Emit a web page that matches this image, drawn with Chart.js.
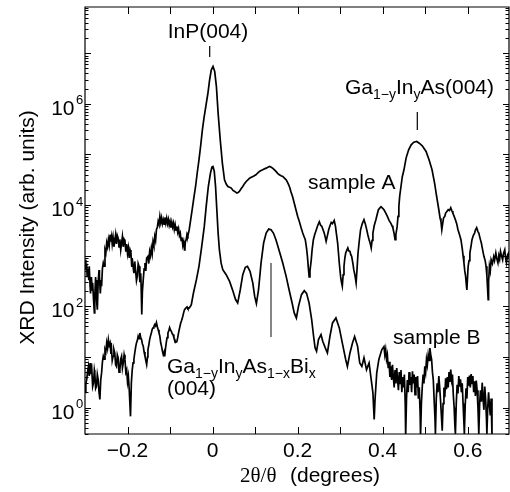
<!DOCTYPE html>
<html><head><meta charset="utf-8">
<script src="https://cdn.jsdelivr.net/npm/chart.js@4/dist/chart.umd.min.js"></script>
<style>html,body{margin:0;padding:0;background:#fff;}#wrap{width:510px;height:492px;}</style>
</head><body><div id="wrap"><canvas id="c" width="510" height="492"></canvas></div>
<script>
// ---- data (2theta/theta in degrees, intensity arb. units) ----
const sampleA_x = [
-0.300,-0.298,-0.296,-0.295,-0.293,-0.291,-0.290,-0.288,-0.287,-0.285,
-0.283,-0.282,-0.280,-0.278,-0.277,-0.275,-0.274,-0.273,-0.272,-0.271,
-0.269,-0.267,-0.266,-0.264,-0.262,-0.261,-0.259,-0.257,-0.255,-0.253,
-0.251,-0.249,-0.247,-0.245,-0.243,-0.241,-0.2395,-0.2375,-0.236,-0.234,
-0.232,-0.230,-0.228,-0.226,-0.224,-0.222,-0.220,-0.218,-0.216,-0.214,
-0.212,-0.210,-0.208,-0.206,-0.204,-0.202,-0.200,-0.198,-0.196,-0.194,
-0.192,-0.190,-0.189,-0.187,-0.185,-0.183,-0.181,-0.179,-0.177,-0.175,
-0.173,-0.171,-0.169,-0.168,-0.167,-0.166,-0.165,-0.163,-0.161,-0.159,
-0.157,-0.155,-0.152,-0.150,-0.148,-0.146,-0.144,-0.142,-0.140,-0.138,
-0.136,-0.134,-0.132,-0.130,-0.128,-0.126,-0.124,-0.122,-0.120,-0.118,
-0.116,-0.114,-0.112,-0.110,-0.108,-0.106,-0.104,-0.102,-0.100,-0.098,
-0.096,-0.094,-0.092,-0.090,-0.088,-0.086,-0.084,-0.082,-0.080,-0.078,
-0.076,-0.074,-0.072,-0.070,-0.068,-0.066,-0.065,-0.064,-0.062,-0.060,
-0.058,-0.055,-0.052,-0.048,-0.044,-0.040,-0.036,-0.032,-0.028,-0.024,
-0.020,-0.016,-0.011,-0.007,-0.003,0.001,0.005,0.009,0.013,0.018,
0.023,0.028,0.032,0.036,0.040,0.044,0.048,0.052,0.055,0.057,
0.060,0.063,0.067,0.071,0.075,0.079,0.083,0.087,0.091,0.095,
0.099,0.102,0.106,0.110,0.114,0.118,0.122,0.126,0.130,0.134,
0.138,0.141,0.145,0.149,0.153,0.157,0.161,0.165,0.169,0.173,
0.176,0.179,0.182,0.184,0.188,0.192,0.196,0.200,0.204,0.208,
0.212,0.215,0.218,0.221,0.223,0.225,0.227,0.229,0.232,0.234,
0.237,0.240,0.244,0.247,0.251,0.254,0.257,0.2595,0.2625,0.265,
0.267,0.270,0.273,0.276,0.279,0.282,0.286,0.289,0.291,0.294,
0.296,0.298,0.301,0.303,0.305,0.307,0.309,0.311,0.313,0.316,
0.318,0.320,0.323,0.325,0.327,0.330,0.332,0.335,0.3375,0.340,
0.342,0.345,0.348,0.352,0.356,0.359,0.3625,0.365,0.368,0.371,
0.373,0.375,0.377,0.380,0.384,0.387,0.390,0.393,0.396,0.400,
0.403,0.407,0.411,0.415,0.419,0.422,0.424,0.427,0.429,0.431,
0.434,0.436,0.438,0.440,0.443,0.446,0.450,0.455,0.461,0.467,
0.473,0.480,0.486,0.493,0.502,0.509,0.516,0.522,0.527,0.532,
0.535,0.537,0.539,0.541,0.543,0.546,0.548,0.551,0.554,0.557,
0.560,0.563,0.565,0.568,0.571,0.574,0.577,0.580,0.584,0.587,
0.589,0.591,0.593,0.595,0.597,0.598,0.600,0.601,0.603,0.605,
0.608,0.610,0.613,0.616,0.618,0.621,0.624,0.626,0.629,0.632,
0.635,0.638,0.641,0.643,0.645,0.648,0.649,0.651,0.653,0.655,
0.658,0.661,0.663,0.666,0.668,0.671,0.673,0.675,0.677,0.680,
0.682,0.684,0.687,0.689,0.691,0.694,0.696,0.698];
const sampleA_y = [
830,520,700,390,560,330,620,250,180,380,
210,290,140,74,160,380,210,330,120,86,
300,520,390,180,330,250,560,720,620,1300,
1130,1800,1500,2070,1600,2600,1900,2410,1700,2300,
1500,1920,2600,1700,2500,2230,1500,2100,1300,1780,
2400,1500,2100,1920,1200,1700,1100,1420,900,1300,
1130,600,900,620,450,770,500,320,390,700,
620,300,450,250,160,69,200,340,550,720,
500,900,970,700,1200,1000,1420,1100,1900,1600,
2410,2000,3300,3600,4760,4200,5970,4500,5600,4300,
5140,4200,5700,4400,5500,4300,5200,4000,4760,3600,
4600,3700,4410,3300,4100,3200,3790,2900,3400,2500,
2800,2000,2300,1600,1900,1300,1420,1900,2070,2700,
2500,3260,4800,8090,14000,23300,44000,78500,150000,307000,
540000,885000,1620000,2980000,4690000,5460000,4350000,2200000,655000,195000,
67400,31600,26000,23300,22500,21700,19500,18600,17800,17300,
17800,18600,21000,23300,26500,29300,31500,34100,35500,36800,
38500,39700,43000,46200,48000,49800,52000,53700,56000,57900,
56000,53700,50000,46200,42500,39700,38000,36800,34000,31600,
28500,25200,21500,18600,14800,11000,8090,6000,4760,3600,
2800,2400,2070,1400,970,600,380,500,830,1300,
2070,2600,3260,3900,4690,4000,3790,3300,2800,2300,
1920,2500,3260,3900,4550,4300,4980,3800,2800,1800,
1130,700,390,300,250,420,620,900,1130,1300,
1420,1250,1220,1050,970,700,530,400,290,600,
1130,2000,3260,4300,5140,4300,3260,2600,2070,1700,
1420,2000,2800,3900,5140,6500,8090,8700,9270,8600,
8090,7000,5970,5000,4410,3900,3520,2700,2070,2600,
3790,6000,9270,15000,23300,36000,49800,84700,124000,155000,
175000,181000,167000,148000,115000,78500,49800,27200,14600,8090,
5500,4760,3260,4300,5540,6000,6950,7500,8090,7800,
8860,7600,6950,6000,5140,4300,3260,2700,2070,1400,
1000,728,500,390,250,210,450,620,800,1130,
1600,2070,2500,2800,3200,3570,3000,2800,2200,1780,
1300,970,800,620,400,136,300,620,500,830,
700,955,800,1130,900,720,1000,850,1220,950,
830,1100,1310,900,720,1050,1130,900];

const sampleB_x = [
-0.300,-0.298,-0.296,-0.294,-0.292,-0.290,-0.288,-0.286,-0.284,-0.282,
-0.280,-0.278,-0.277,-0.275,-0.273,-0.271,-0.269,-0.267,-0.265,-0.263,
-0.261,-0.259,-0.257,-0.255,-0.253,-0.251,-0.249,-0.247,-0.245,-0.243,
-0.241,-0.239,-0.2375,-0.236,-0.234,-0.232,-0.230,-0.228,-0.226,-0.224,
-0.222,-0.220,-0.218,-0.216,-0.214,-0.212,-0.210,-0.208,-0.206,-0.204,
-0.202,-0.200,-0.198,-0.196,-0.193,-0.191,-0.189,-0.187,-0.185,-0.183,
-0.181,-0.179,-0.177,-0.175,-0.173,-0.171,-0.169,-0.167,-0.165,-0.163,
-0.161,-0.159,-0.157,-0.155,-0.153,-0.152,-0.150,-0.148,-0.146,-0.144,
-0.142,-0.140,-0.138,-0.136,-0.134,-0.132,-0.130,-0.128,-0.126,-0.124,
-0.122,-0.120,-0.118,-0.116,-0.114,-0.1125,-0.111,-0.109,-0.107,-0.105,
-0.103,-0.101,-0.099,-0.097,-0.095,-0.093,-0.091,-0.089,-0.087,-0.084,
-0.082,-0.080,-0.078,-0.075,-0.073,-0.070,-0.068,-0.066,-0.063,-0.060,
-0.058,-0.055,-0.052,-0.050,-0.045,-0.038,-0.032,-0.026,-0.0195,-0.015,
-0.010,-0.005,-0.0016,0.001,0.004,0.007,0.010,0.013,0.016,0.020,
0.024,0.032,0.040,0.048,0.054,0.059,0.065,0.071,0.077,0.082,
0.088,0.0945,0.099,0.103,0.108,0.114,0.120,0.126,0.132,0.1375,
0.143,0.149,0.157,0.165,0.173,0.180,0.187,0.192,0.197,0.202,
0.209,0.2156,0.221,0.227,0.233,0.2375,0.241,0.2445,0.249,0.255,
0.259,0.265,0.270,0.276,0.282,0.290,0.298,0.305,0.313,0.317,
0.323,0.329,0.334,0.341,0.346,0.351,0.356,0.362,0.368,0.373,
0.377,0.380,0.382,0.386,0.391,0.398,0.403,0.405,0.407,0.409,
0.411,0.413,0.415,0.417,0.419,0.421,0.423,0.425,0.427,0.429,
0.431,0.433,0.435,0.437,0.439,0.441,0.443,0.445,0.447,0.449,
0.451,0.453,0.454,0.456,0.458,0.460,0.462,0.464,0.466,0.468,
0.470,0.472,0.474,0.476,0.478,0.480,0.482,0.484,0.486,0.488,
0.489,0.491,0.493,0.495,0.497,0.499,0.501,0.503,0.505,0.507,
0.509,0.511,0.513,0.515,0.517,0.519,0.521,0.523,0.524,0.526,
0.528,0.530,0.532,0.534,0.536,0.538,0.540,0.542,0.544,0.546,
0.548,0.550,0.552,0.554,0.556,0.558,0.560,0.562,0.564,0.566,
0.568,0.570,0.571,0.573,0.575,0.577,0.579,0.581,0.583,0.585,
0.587,0.589,0.591,0.592,0.594,0.596,0.598,0.600,0.602,0.604,
0.606,0.608,0.610,0.612,0.614,0.616,0.618,0.620,0.622,0.624,
0.626,0.628,0.630,0.632,0.634,0.636,0.638,0.640,0.642,0.644,
0.645,0.647,0.649,0.651,0.653,0.655,0.657];
const sampleB_y = [
1.98,3.0,3.57,5.0,6.45,4.2,7.6,4.6,5.6,2.6,
3.07,5.5,4.83,2.4,2.64,4.5,3.57,2.0,1.44,3.5,
4.83,8.0,10.3,9.0,14.0,12.5,18.9,15.0,22.0,17.0,
18.9,11.5,14.0,8.5,10.3,14.0,12.0,7.0,6.5,11.0,
9.6,5.0,5.6,9.0,10.3,6.0,7.6,11.0,8.9,5.0,
5.6,3.2,4.15,2.27,0.67,3.07,5.5,7.6,9.0,12.0,
15.5,18.9,21.0,25.6,23.0,29.8,24.0,22.0,18.0,16.2,
12.5,10.3,8.5,7.06,10.0,14.0,17.0,22.0,26.0,29.8,
35.0,37.4,40.0,43.5,41.0,47.6,40.0,34.6,30.0,25.6,
19.0,16.2,13.0,11.1,12.5,10.2,14.0,18.9,24.0,29.8,
33.0,37.9,34.0,32.1,29.0,27.6,24.0,22.0,19.5,20.1,
24.0,29.8,36.0,46.9,52.0,63.5,75.0,86,92.0,97,
90.0,92.7,100,108,183,336,616,1420,3790,9420,
23300,42800,56200,57900,46200,23300,8090,2800,1310,720,
530,422,311,198,136,116,210,422,589,616,
491,290,157,113,210,720,1780,2800,3360,3260,
2800,2070,1220,720,390,210,116,74,58.9,100,
170,204,180,116,54.6,25.6,15.1,12.9,22.0,27.6,
20.4,15.1,12.0,25.6,46.9,58.9,37.4,18.9,8.9,6.5,
12.0,18.9,25.2,16.2,7.6,6.5,9.6,5.6,7.6,3.57,
1.95,0.58,1.44,4.83,8.9,14.0,16.0,11.0,14.0,9.0,
11.0,6.0,8.0,4.0,6.5,3.5,7.0,4.0,2.5,5.5,
3.0,6.0,3.5,2.2,5.0,3.0,5.5,2.0,4.0,2.5,
4.5,1.2,0.27,1.5,3.5,2.0,5.0,2.8,4.0,2.0,
5.2,3.0,4.5,1.8,4.0,2.5,4.2,1.5,2.5,0.8,
0.27,1.2,2.5,4.5,3.0,6.5,5.0,9.0,7.0,11.0,
8.5,15.0,11.0,9.0,5.0,3.5,1.4,0.6,0.3,1.5,
3.0,2.0,4.2,2.5,1.4,0.7,0.35,1.2,2.5,1.6,
3.8,2.3,4.0,2.5,5.0,3.2,5.6,3.5,4.5,1.8,
1.0,0.4,0.3,1.2,2.8,1.9,4.2,2.6,3.6,2.0,
3.0,1.2,0.5,0.3,1.1,2.4,1.5,4.0,2.7,4.3,
2.5,4.6,3.0,4.2,2.0,3.3,1.7,3.4,2.2,1.0,
0.3,1.2,2.2,1.3,3.1,1.5,0.9,2.6,1.5,0.6,
0.3,1.0,2.0,1.1,0.7,1.5,0.27];

const xTickValues = [-0.2,-0.1,0,0.1,0.2,0.3,0.4,0.5,0.6];
const xTickLabels = ["\u22120.2","","0","","0.2","","0.4","","0.6"];
const yLabelExponents = ["0","2","4","6"];

const SANS = "'Liberation Sans', Arial, Helvetica, sans-serif";
const SERIF = "'Liberation Serif', 'Times New Roman', serif";

function drawSegs(ctx, x, y, segs){
  let cx = x;
  for (const [t, sub] of segs){
    ctx.font = (sub ? "14px " : "21px ") + SANS;
    ctx.fillText(t, cx, sub ? y + 5 : y);
    cx += ctx.measureText(t).width;
  }
}

const decor = {
  id: 'decor',
  afterDraw(chart){
    const {ctx, chartArea: a, scales: {x, y}} = chart;
    ctx.save();
    ctx.strokeStyle = '#000';
    ctx.fillStyle = '#000';
    ctx.lineWidth = 1.2;
    ctx.beginPath();
    ctx.moveTo(a.left, a.top); ctx.lineTo(a.right, a.top);
    ctx.lineTo(a.right, a.bottom); ctx.lineTo(a.left, a.bottom); ctx.closePath();
    ctx.stroke();
    ctx.lineWidth = 1;
    ctx.beginPath();
    xTickValues.forEach(v => {
      const px = Math.round(x.getPixelForValue(v)) + 0.5;
      ctx.moveTo(px, a.bottom); ctx.lineTo(px, a.bottom - 7);
      ctx.moveTo(px, a.top); ctx.lineTo(px, a.top + 7);
    });
    for (let d = -1; d <= 7; d++){
      for (let m = 1; m <= 9; m++){
        const v = m * Math.pow(10, d);
        if (v < y.min || v > y.max) continue;
        const py = Math.round(y.getPixelForValue(v)) + 0.5;
        const len = m === 1 ? 6 : 3.5;
        ctx.moveTo(a.left, py); ctx.lineTo(a.left + len, py);
        ctx.moveTo(a.right, py); ctx.lineTo(a.right - len, py);
      }
    }
    ctx.stroke();
    ctx.font = "21px " + SANS;
    ctx.textAlign = 'center';
    ctx.textBaseline = 'alphabetic';
    xTickValues.forEach((v, i) => {
      if (!xTickLabels[i]) return;
      ctx.fillText(xTickLabels[i], x.getPixelForValue(v), 457);
    });
    yLabelExponents.forEach(e => {
      const py = y.getPixelForValue(Math.pow(10, +e));
      ctx.font = "21px " + SANS;
      ctx.textAlign = 'right';
      ctx.fillText("10", 74.5, py + 11);
      ctx.font = "13px " + SANS;
      ctx.textAlign = 'left';
      ctx.fillText(e, 76, py + 0.5);
    });
    ctx.save();
    ctx.translate(34, 227.5);
    ctx.rotate(-Math.PI / 2);
    ctx.font = "21px " + SANS;
    ctx.textAlign = 'center';
    ctx.fillText("XRD Intensity (arb. units)", 0, 0);
    ctx.restore();
    ctx.textAlign = 'left';
    ctx.font = "21px " + SERIF;
    ctx.fillText("2\u03b8/\u03b8", 240, 482);
    ctx.font = "21px " + SANS;
    ctx.fillText("(degrees)", 290, 482);
    ctx.font = "21px " + SANS;
    ctx.textAlign = 'center';
    ctx.fillText("InP(004)", 208, 38);
    ctx.textAlign = 'left';
    ctx.fillText("sample A", 308, 189);
    ctx.fillText("sample B", 393, 344);
    drawSegs(ctx, 345, 93.5, [["Ga",0],["1\u2212y",1],["In",0],["y",1],["As(004)",0]]);
    drawSegs(ctx, 167, 373, [["Ga",0],["1\u2212y",1],["In",0],["y",1],["As",0],["1\u2212x",1],["Bi",0],["x",1]]);
    ctx.font = "21px " + SANS;
    ctx.fillText("(004)", 167, 395);
    ctx.lineWidth = 1.2;
    ctx.beginPath();
    ctx.moveTo(209.7, 46); ctx.lineTo(209.7, 57);
    ctx.moveTo(417.3, 112); ctx.lineTo(417.3, 130);
    ctx.stroke();
    ctx.strokeStyle = '#333';
    ctx.beginPath();
    ctx.moveTo(271, 263); ctx.lineTo(271, 337);
    ctx.stroke();
    ctx.restore();
  }
};

const toPts = (xs, ys) => xs.map((v, i) => ({x: v, y: ys[i]}));

new Chart(document.getElementById('c'), {
  type: 'line',
  data: {
    datasets: [
      {label: 'sample A', data: toPts(sampleA_x, sampleA_y), borderColor: '#000', borderWidth: 1.7, pointRadius: 0, tension: 0, fill: false},
      {label: 'sample B', data: toPts(sampleB_x, sampleB_y), borderColor: '#000', borderWidth: 1.7, pointRadius: 0, tension: 0, fill: false}
    ]
  },
  options: {
    responsive: false,
    animation: false,
    devicePixelRatio: 1,
    events: [],
    layout: {padding: {left: 85, right: 1, top: 7, bottom: 58}},
    plugins: {legend: {display: false}, tooltip: {enabled: false}},
    scales: {
      x: {type: 'linear', min: -0.3, max: 0.697, display: false},
      y: {type: 'logarithmic', min: 0.307, max: 8.2e7, display: false}
    }
  },
  plugins: [decor]
});
</script>
</body></html>
